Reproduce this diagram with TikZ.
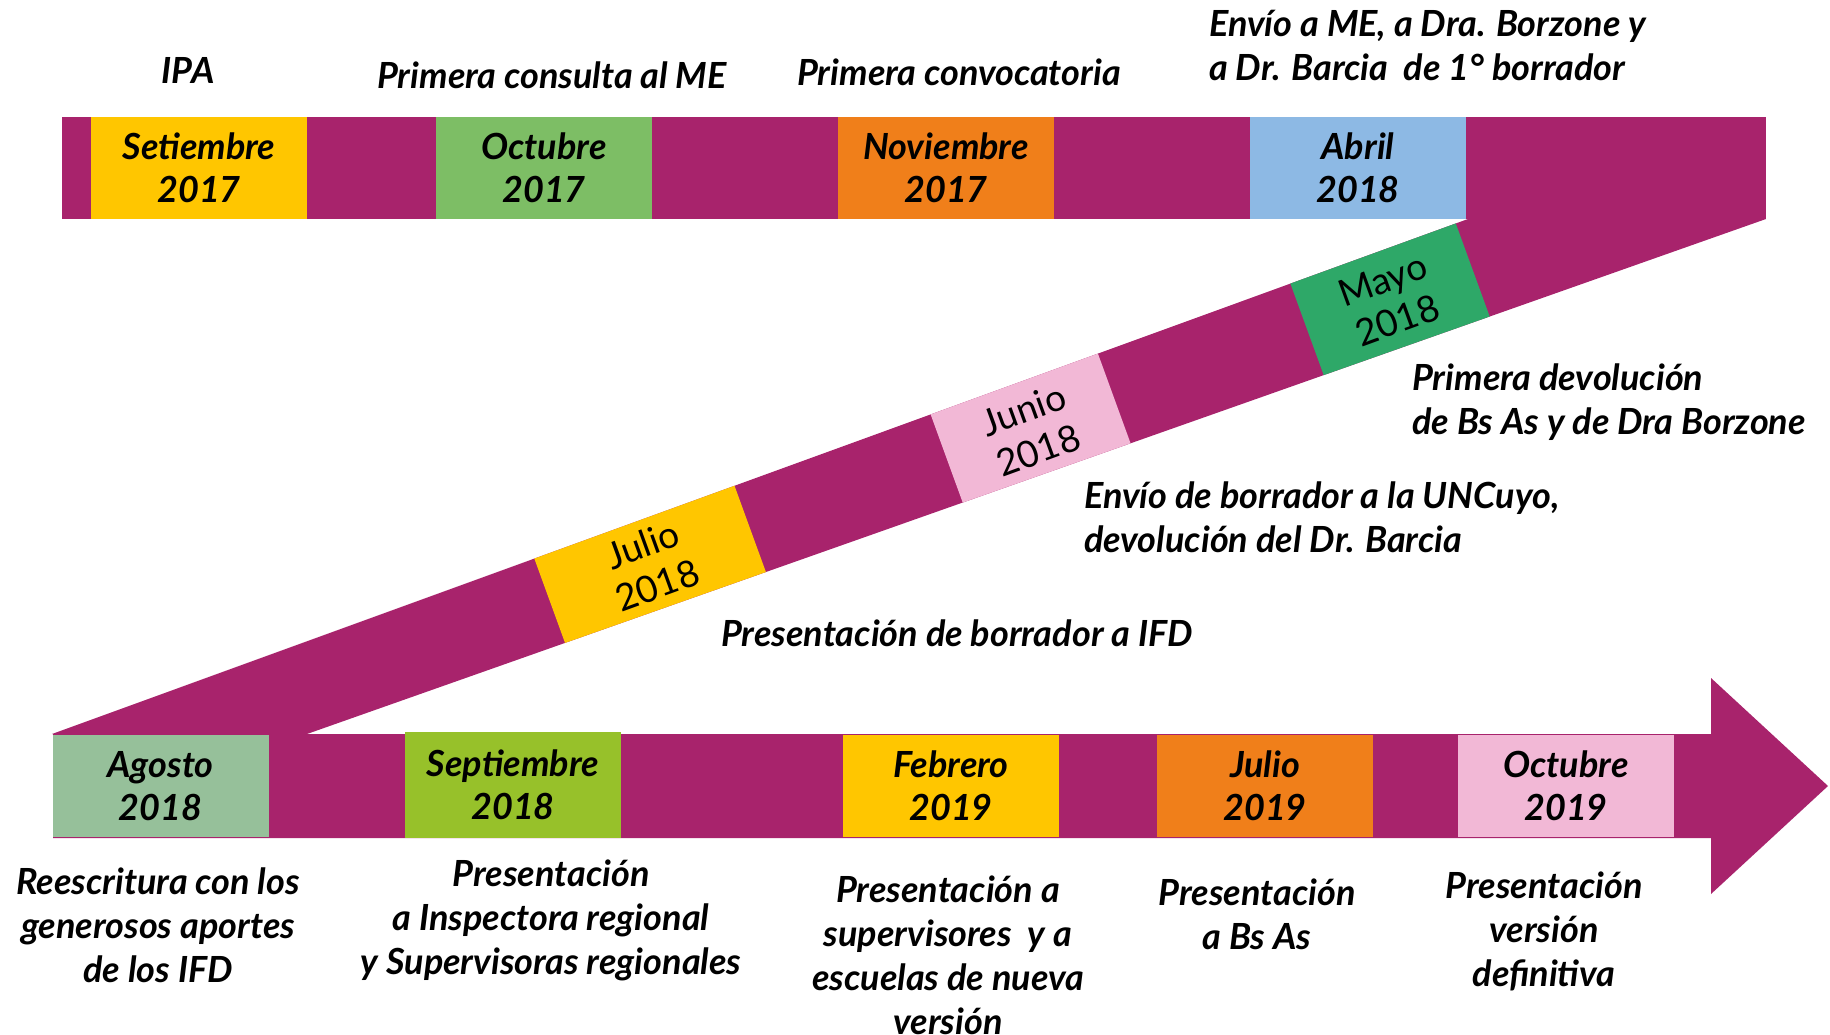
\documentclass[tikz,border=0pt]{standalone}
\usepackage{fontspec}
\setmainfont{Lato}
\definecolor{bandc}{RGB}{168,35,108}
\definecolor{cyel}{RGB}{255,198,0}
\definecolor{cgrn}{RGB}{125,190,101}
\definecolor{corg}{RGB}{240,127,26}
\definecolor{cblu}{RGB}{141,185,228}
\definecolor{cmay}{RGB}{46,168,104}
\definecolor{cpnk}{RGB}{242,184,214}
\definecolor{cage}{RGB}{150,192,154}
\definecolor{clim}{RGB}{151,193,42}
\begin{document}
\begin{tikzpicture}[x=1pt,y=-1pt,
  mbox/.style={minimum width=216pt, minimum height=102pt, inner sep=0pt, align=center,
    font=\fontsize{36}{43}\selectfont\bfseries\itshape},
  dbox/.style={rotate=20, minimum height=130pt, inner sep=0pt, align=center,
    font=\fontsize{37}{43}\selectfont},
  lbl/.style={inner sep=0pt, font=\fontsize{36}{44}\selectfont\bfseries\itshape}
]
\useasboundingbox (0,0) rectangle (1830,1035);
% bands
\fill[bandc] (62,117) rectangle (1766,219);
\fill[bandc] (1468,219) -- (1766,219) -- (307,734) -- (52,734) -- cycle;
\fill[bandc] (53,734) -- (1711,734) -- (1711,678) -- (1828,786) -- (1711,894) -- (1711,838) -- (53,838) -- cycle;
% top boxes
\node[mbox, fill=cyel] (set17) at (199,168) {Setiembre\\2017};
\node[mbox, fill=cgrn] (oct17) at (544,168) {Octubre\\2017};
\node[mbox, fill=corg] (nov17) at (946,168) {Noviembre\\2017};
\node[mbox, fill=cblu] (abr18) at (1358,168) {Abril\\2018};
% diagonal boxes
\begin{scope}
\clip (1468,219) -- (1766,219) -- (307,734) -- (52,734) -- cycle;
\node[dbox, fill=cmay, minimum width=176pt] (may18) at (1390,300) {Mayo\\2018};
\node[dbox, fill=cpnk, minimum width=178pt] (jun18) at (1031,430) {Junio\\2018};
\node[dbox, fill=cyel, minimum width=213pt] (jul18) at (650,565) {Julio\\2018};
\end{scope}
% bottom boxes
\node[mbox, fill=cage] (ago18) at (160.5,786) {Agosto\\2018};
\node[mbox, fill=clim, minimum height=106pt] (sep18) at (513,785) {Septiembre\\2018};
\node[mbox, fill=cyel] (feb19) at (951,786) {Febrero\\2019};
\node[mbox, fill=corg] (jul19) at (1265,786) {Julio\\2019};
\node[mbox, fill=cpnk] (oct19) at (1566,786) {Octubre\\2019};
% labels
\node[lbl] (t1) at (188,70) {IPA};
\node[lbl] (t2) at (552,75) {Primera consulta al ME};
\node[lbl] (t3) at (959,72) {Primera convocatoria};
\node[lbl, anchor=west, align=left] (t4) at (1209,45.5) {Envío a ME, a Dra. Borzone y\\a Dr. Barcia\ \ de 1° borrador};
\node[lbl, anchor=west, align=left] (t5) at (1412,402.5) {Primera devolución\\de Bs As y de Dra Borzone};
\node[lbl, anchor=west, align=left] (t6) at (1084,517.5) {Envío de borrador a la UNCuyo,\\devolución del Dr. Barcia};
\node[lbl] (t7) at (957,633) {Presentación de borrador a IFD};
\node[lbl, align=center] (t8) at (158,925) {Reescritura con los\\generosos aportes\\de los IFD};
\node[lbl, align=center] (t9) at (551,920.5) {Presentación\\a Inspectora regional\\y Supervisoras regionales};
\node[lbl, align=center] (t10) at (948,955.5) {Presentación a\\supervisores\ \ y a\\escuelas de nueva\\versión};
\node[lbl, align=center] (t11) at (1257,914.5) {Presentación\\a Bs As};
\node[lbl, align=center] (t12) at (1544,931) {Presentación\\versión\\definitiva};
\end{tikzpicture}
\end{document}
